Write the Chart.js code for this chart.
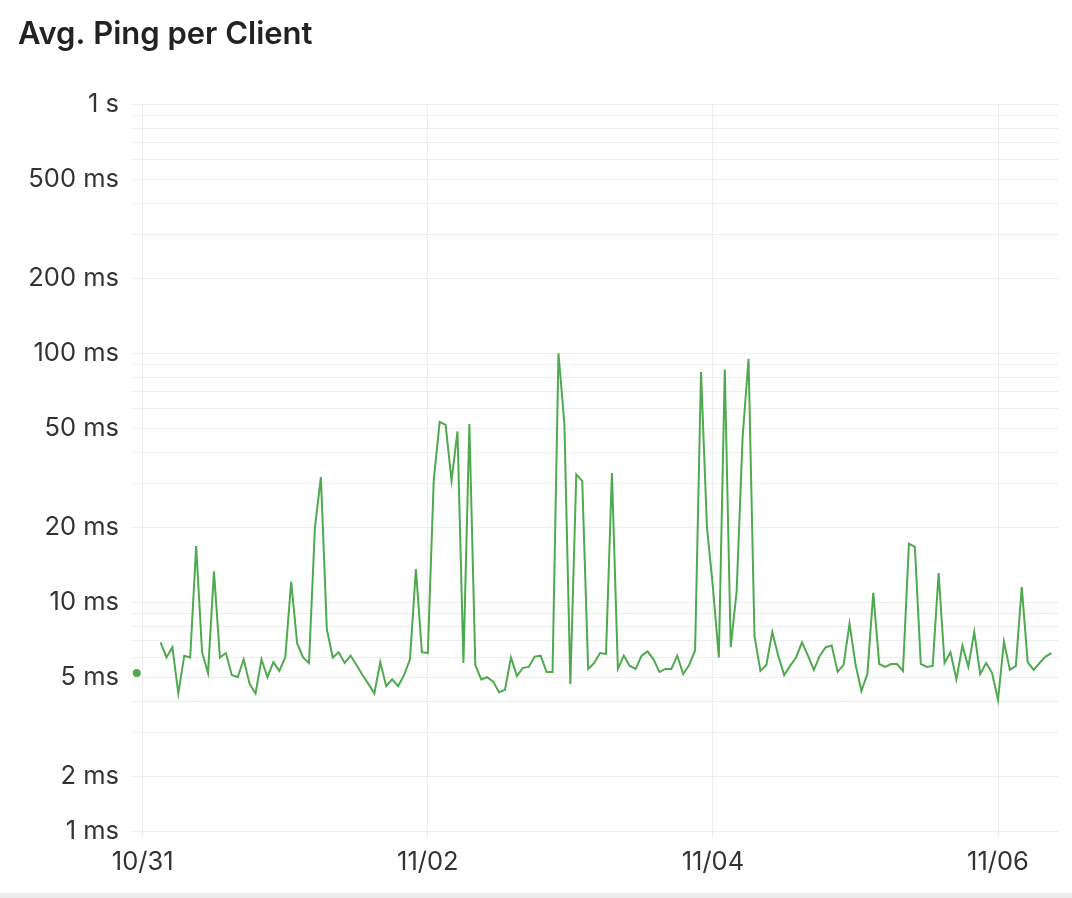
<!DOCTYPE html>
<html>
<head>
<meta charset="utf-8">
<script src="https://cdn.jsdelivr.net/npm/chart.js@4.4.1/dist/chart.umd.min.js"></script>
<style>
  html, body { margin: 0; padding: 0; background: #fff; }
  .card { width: 1072px; height: 893px; border-bottom: 5px solid #ececec; position: relative; }
  canvas { display: block; }
</style>
</head>
<body>
<div class="card"><canvas id="pingChart" width="1072" height="893"></canvas></div>
<script>
// hours since 10/31 00:00, one reading per hour
const firstHour = -1;
const pingMs = [
  5.2, null, null, null, 6.9, 6.0, 6.6, 4.3, 6.1, 6.0,
  16.8, 6.3, 5.2, 13.3, 6.0, 6.25, 5.1, 5.0, 5.9, 4.7,
  4.3, 5.9, 5.0, 5.75, 5.3, 6.0, 12.1, 6.85, 6.0, 5.7,
  20, 31.8, 7.8, 6.0, 6.3, 5.7, 6.1, 5.6, 5.1, 4.7,
  4.3, 5.75, 4.6, 4.9, 4.6, 5.1, 5.9, 13.6, 6.3, 6.25,
  30.9, 53, 51.5, 30.8, 48.5, 5.7, 52, 5.6, 4.9, 5.0,
  4.8, 4.35, 4.45, 6.0, 5.05, 5.45, 5.5, 6.05, 6.1, 5.25,
  5.25, 100, 52, 4.7, 32.6, 30.7, 5.4, 5.7, 6.25, 6.2,
  33, 5.4, 6.1, 5.55, 5.4, 6.1, 6.35, 5.9, 5.25, 5.4,
  5.4, 6.1, 5.15, 5.6, 6.4, 84, 20, 11.5, 6.0, 86,
  6.6, 11.1, 46, 95, 7.3, 5.3, 5.6, 7.6, 6.1, 5.1,
  5.55, 6.0, 6.9, 6.1, 5.35, 6.1, 6.6, 6.7, 5.25, 5.6,
  8.2, 5.65, 4.4, 5.15, 10.9, 5.65, 5.5, 5.65, 5.65, 5.3,
  17.2, 16.7, 5.65, 5.5, 5.55, 13.1, 5.7, 6.3, 4.9, 6.7,
  5.5, 7.6, 5.15, 5.7, 5.2, 4.05, 6.95, 5.35, 5.55, 11.5,
  5.75, 5.35, 5.7, 6.05, 6.25
];

const xTickHours = [0, 48, 96, 144];
const xTickLabels = ['10/31', '11/02', '11/04', '11/06'];

const yGridValues = [1, 2, 3, 4, 5, 6, 7, 8, 9, 10, 20, 30, 40, 50, 60, 70, 80, 90,
  100, 200, 300, 400, 500, 600, 700, 800, 900, 1000];
const yLabelValues = [1, 2, 5, 10, 20, 50, 100, 200, 500, 1000];
const yLabels = ['1 ms', '2 ms', '5 ms', '10 ms', '20 ms', '50 ms', '100 ms', '200 ms', '500 ms', '1 s'];

const points = pingMs.map((v, i) => ({ x: firstHour + i, y: v }));

const isolated = (ctx) => {
  const i = ctx.dataIndex;
  const prev = pingMs[i - 1], next = pingMs[i + 1];
  return (prev == null) && (next == null);
};

const FONT = 'Inter, "Noto Sans", sans-serif';
const gridColor = '#ededed';

new Chart(document.getElementById('pingChart'), {
  type: 'line',
  data: {
    datasets: [{
      label: 'Avg. Ping',
      data: points,
      borderColor: '#4fa94f',
      backgroundColor: '#4fa94f',
      borderWidth: 2,
      tension: 0,
      spanGaps: false,
      pointRadius: ctx => isolated(ctx) ? 4 : 0,
      pointHoverRadius: 0,
      pointBorderWidth: 0,
    }]
  },
  options: {
    responsive: false,
    animation: false,
    layout: { padding: { left: 18, right: 14, top: 0, bottom: 0 } },
    plugins: {
      legend: { display: false },
      tooltip: { enabled: false },
      title: {
        display: true,
        text: 'Avg. Ping per Client',
        align: 'start',
        color: '#222222',
        font: { family: FONT, size: 31, weight: 600 },
        padding: { top: 16, bottom: 51 }
      }
    },
    scales: {
      x: {
        type: 'linear',
        min: -1.8,
        max: 154.1,
        border: { display: false },
        grid: { color: gridColor, drawTicks: true, tickLength: 7, tickColor: gridColor },
        ticks: {
          color: '#333333',
          font: { family: FONT, size: 25.5 },
          padding: 9,
          autoSkip: false,
          maxRotation: 0,
          callback: (v, i) => xTickLabels[i]
        },
        afterBuildTicks: axis => {
          axis.ticks = xTickHours.map(h => ({ value: h }));
        },
        afterFit: axis => { axis.height = 62; }
      },
      y: {
        type: 'logarithmic',
        min: 1.206,
        max: 1000,
        border: { display: false },
        grid: { color: gridColor, drawTicks: false },
        ticks: {
          color: '#333333',
          font: { family: FONT, size: 25.5 },
          padding: 13,
          autoSkip: false,
          callback: (v, i) => {
            const k = yLabelValues.indexOf(yGridValues[i]);
            return k >= 0 ? yLabels[k] : '';
          }
        },
        afterBuildTicks: axis => {
          axis.ticks = yGridValues.map(v => ({ value: Math.max(v, axis.min) }));
        },
        afterFit: axis => { axis.width = 114; }
      }
    }
  }
});
</script>
</body>
</html>
